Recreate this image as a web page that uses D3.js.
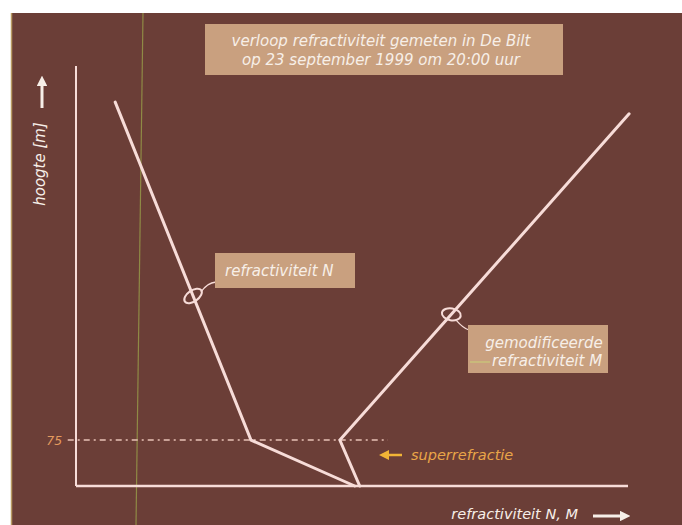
<!DOCTYPE html>
<html>
<head>
<meta charset="utf-8">
<script src="https://d3js.org/d3.v7.min.js"></script>
<style>
  body { margin: 0; background: #fff; }
  svg { display: block; }
  text { font-family: "DejaVu Sans", sans-serif; font-style: italic; }
</style>
</head>
<body>
<div id="chart"></div>
<script>
// hoogte in meters, refractiviteit in willekeurige eenheden
const nHeights = [626, 75, 0];
const nValues = [7.1, 31.7, 50.5];
const mHeights = [0, 75, 607];
const mValues = [51.4, 47.8, 100.2];
const yTicks = [75];
const titleLines = ['verloop refractiviteit gemeten in De Bilt', 'op 23 september 1999 om 20:00 uur'];

const width = 682, height = 525;
const svg = d3.select('#chart').append('svg').attr('width', width).attr('height', height);

// achtergrond (scan met witte rand links en boven)
svg.append('rect').attr('x', 11).attr('y', 13).attr('width', width - 11).attr('height', height - 13).attr('fill', '#6b3e37');
svg.append('line').attr('x1', 11.5).attr('y1', 13).attr('x2', 11.5).attr('y2', height).attr('stroke', '#b89a62').attr('stroke-width', 1.5);
svg.append('line').attr('x1', 143).attr('y1', 13).attr('x2', 136).attr('y2', height).attr('stroke', '#8f8a45').attr('stroke-width', 1.2);

const x = d3.scaleLinear().domain([0, 100]).range([76, 628]);
const y = d3.scaleLinear().domain([0, 685]).range([486, 66]);

const lineColor = '#f7dcd8';

// assen
svg.append('line').attr('x1', x(0)).attr('y1', y(0)).attr('x2', x(0)).attr('y2', y(685))
  .attr('stroke', lineColor).attr('stroke-width', 2);
svg.append('line').attr('x1', x(0)).attr('y1', y(0)).attr('x2', x(100)).attr('y2', y(0))
  .attr('stroke', lineColor).attr('stroke-width', 2.5);

// 75 m lijn
yTicks.forEach(t => {
  svg.append('line').attr('x1', x(-1.5)).attr('y1', y(t)).attr('x2', x(56.5)).attr('y2', y(t))
    .attr('stroke', '#e9c2b6').attr('stroke-width', 1.5).attr('stroke-dasharray', '6,4,2,4');
  svg.append('text').attr('x', x(-2.5)).attr('y', y(t) + 4.5).attr('text-anchor', 'end')
    .style('font-size', '12.5px').style('fill', '#e29a5e').text(t);
});

// curves
const line = d3.line().x(d => x(d[0])).y(d => y(d[1]));
const nData = nValues.map((v, i) => [v, nHeights[i]]);
const mData = mValues.map((v, i) => [v, mHeights[i]]);
svg.append('path').datum(nData).attr('d', line).attr('fill', 'none')
  .attr('stroke', lineColor).attr('stroke-width', 3).attr('stroke-linejoin', 'miter').attr('stroke-linecap', 'round');
svg.append('path').datum(mData).attr('d', line).attr('fill', 'none')
  .attr('stroke', lineColor).attr('stroke-width', 3).attr('stroke-linejoin', 'miter').attr('stroke-linecap', 'round');

// titel
const boxFill = '#c9a07f';
const textFill = '#f7efe8';
svg.append('rect').attr('x', 205).attr('y', 24).attr('width', 358).attr('height', 51).attr('fill', boxFill);
titleLines.forEach((t, i) => {
  svg.append('text').attr('x', 381).attr('y', 46 + i * 19).attr('text-anchor', 'middle')
    .style('font-size', '15px').style('fill', textFill).text(t);
});

// label N
const nMark = [x(nValues[0] + (nValues[1] - nValues[0]) * (626 - 310) / (626 - 75)), y(310)];
svg.append('ellipse').attr('cx', nMark[0]).attr('cy', nMark[1]).attr('rx', 10).attr('ry', 5.5)
  .attr('transform', `rotate(-35,${nMark[0]},${nMark[1]})`)
  .attr('fill', 'none').attr('stroke', lineColor).attr('stroke-width', 2);
svg.append('path').attr('d', `M${nMark[0] + 8},${nMark[1] - 4} Q${nMark[0] + 14},${nMark[1] - 13} ${216},${282}`)
  .attr('fill', 'none').attr('stroke', lineColor).attr('stroke-width', 1.3);
svg.append('rect').attr('x', 215).attr('y', 253).attr('width', 140).attr('height', 35).attr('fill', boxFill);
svg.append('text').attr('x', 225).attr('y', 276).style('font-size', '15px').style('fill', textFill).text('refractiviteit N');

// label M
const mMark = [x(mValues[1] + (mValues[2] - mValues[1]) * (280 - 75) / (607 - 75)), y(280)];
svg.append('ellipse').attr('cx', mMark[0]).attr('cy', mMark[1]).attr('rx', 9.5).attr('ry', 6)
  .attr('transform', `rotate(10,${mMark[0]},${mMark[1]})`)
  .attr('fill', 'none').attr('stroke', lineColor).attr('stroke-width', 2);
svg.append('path').attr('d', `M${mMark[0] + 5},${mMark[1] + 6} Q${mMark[0] + 12},${mMark[1] + 14} 469,330`)
  .attr('fill', 'none').attr('stroke', lineColor).attr('stroke-width', 1.3);
svg.append('rect').attr('x', 468).attr('y', 325).attr('width', 140).attr('height', 48).attr('fill', boxFill);
svg.append('line').attr('x1', 470).attr('y1', 362).attr('x2', 490).attr('y2', 362).attr('stroke', '#c9c27a').attr('stroke-width', 1.5);
svg.append('text').attr('x', 544).attr('y', 348).attr('text-anchor', 'middle').style('font-size', '15px').style('fill', textFill).text('gemodificeerde');
svg.append('text').attr('x', 547).attr('y', 366).attr('text-anchor', 'middle').style('font-size', '15px').style('fill', textFill).text('refractiviteit M');

// superrefractie
svg.append('defs').append('marker').attr('id', 'headOr').attr('viewBox', '0 0 10 10').attr('refX', 2).attr('refY', 5)
  .attr('markerWidth', 4).attr('markerHeight', 4).attr('orient', 'auto')
  .append('path').attr('d', 'M0,0 L10,5 L0,10 z').attr('fill', '#f2b436');
svg.append('line').attr('x1', 402).attr('y1', 455).attr('x2', 387).attr('y2', 455)
  .attr('stroke', '#f2b436').attr('stroke-width', 2.5).attr('marker-end', 'url(#headOr)');
svg.append('text').attr('x', 411).attr('y', 460).style('font-size', '14.5px').style('fill', '#e9a548').text('superrefractie');

// aslabels met pijlen
svg.select('defs').append('marker').attr('id', 'headW').attr('viewBox', '0 0 10 10').attr('refX', 2).attr('refY', 5)
  .attr('markerWidth', 3.5).attr('markerHeight', 3.5).attr('orient', 'auto')
  .append('path').attr('d', 'M0,0 L10,5 L0,10 z').attr('fill', '#f7efe8');
svg.append('text').attr('transform', 'translate(45,164) rotate(-90)').attr('text-anchor', 'middle')
  .style('font-size', '15px').style('fill', textFill).text('hoogte [m]');
svg.append('line').attr('x1', 42).attr('y1', 108).attr('x2', 42).attr('y2', 84)
  .attr('stroke', textFill).attr('stroke-width', 3).attr('marker-end', 'url(#headW)');
svg.append('text').attr('x', 578).attr('y', 519).attr('text-anchor', 'end')
  .style('font-size', '14.5px').style('fill', textFill).text('refractiviteit N, M');
svg.append('line').attr('x1', 593).attr('y1', 516).attr('x2', 622).attr('y2', 516)
  .attr('stroke', textFill).attr('stroke-width', 3).attr('marker-end', 'url(#headW)');
</script>
</body>
</html>
